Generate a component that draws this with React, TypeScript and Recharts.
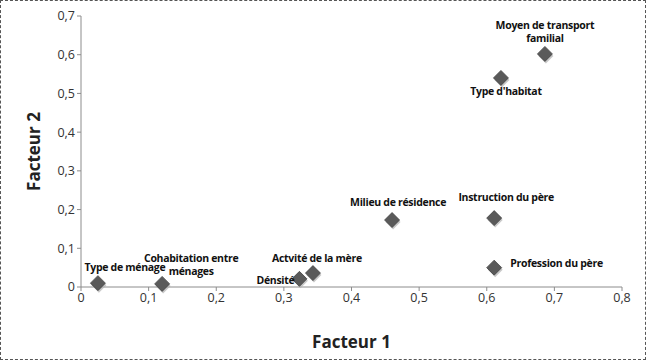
import { ScatterChart, Scatter, XAxis, YAxis } from 'recharts'

const names = [
  'Type de ménage',
  'Cohabitation entre ménages',
  'Dénsité',
  'Actvité de la mère',
  'Milieu de résidence',
  'Instruction du père',
  'Profession du père',
  "Type d'habitat",
  'Moyen de transport familial',
]
const factor1 = [0.025, 0.12, 0.323, 0.343, 0.46, 0.611, 0.611, 0.621, 0.686]
const factor2 = [0.01, 0.008, 0.021, 0.036, 0.173, 0.178, 0.05, 0.54, 0.602]
const xTicks = [0, 0.1, 0.2, 0.3, 0.4, 0.5, 0.6, 0.7, 0.8]
const yTicks = [0, 0.1, 0.2, 0.3, 0.4, 0.5, 0.6, 0.7]

const data = names.map((name, i) => ({ name, x: factor1[i], y: factor2[i] }))

// label placement per point: lines, offsets from the marker, anchor
const labelStyle: Record<string, { lines: string[]; dx: number; dy: number; anchor: 'start' | 'middle' | 'end' }> = {
  'Type de ménage': { lines: ['Type de ménage'], dx: 27, dy: -16, anchor: 'middle' },
  'Cohabitation entre ménages': { lines: ['Cohabitation entre', 'ménages'], dx: 29, dy: -26, anchor: 'middle' },
  'Dénsité': { lines: ['Dénsité'], dx: -5, dy: 1, anchor: 'end' },
  'Actvité de la mère': { lines: ['Actvité de la mère'], dx: 4, dy: -15, anchor: 'middle' },
  'Milieu de résidence': { lines: ['Milieu de résidence'], dx: 6, dy: -18, anchor: 'middle' },
  'Instruction du père': { lines: ['Instruction du père'], dx: 12, dy: -21, anchor: 'middle' },
  'Profession du père': { lines: ['Profession du père'], dx: 16, dy: -5, anchor: 'start' },
  "Type d'habitat": { lines: ["Type d'habitat"], dx: 5, dy: 13, anchor: 'middle' },
  'Moyen de transport familial': { lines: ['Moyen de transport', 'familial'], dx: 0, dy: -29, anchor: 'middle' },
}

const fmt = (v: number) => (v === 0 ? '0' : v.toFixed(1).replace('.', ','))

const Diamond = (props: any) => {
  const { cx, cy } = props
  const name = props.payload?.name ?? props.name
  const s = 7.5
  const pts = (ox: number, oy: number) =>
    `${cx + ox},${cy + oy - s} ${cx + ox + s},${cy + oy} ${cx + ox},${cy + oy + s} ${cx + ox - s},${cy + oy}`
  const lab = labelStyle[name]
  return (
    <g>
      <polygon points={pts(1, 2)} fill="#b0b0b0" opacity={0.7} />
      <polygon points={pts(0, 0)} fill="#5a5a5a" stroke="#444" strokeWidth={0.8} />
      {lab &&
        lab.lines.map((line, i) => (
          <text
            key={i}
            x={cx + lab.dx}
            y={cy + lab.dy + i * 13}
            textAnchor={lab.anchor}
            dominantBaseline="central"
            fontSize={10.5}
            fontWeight="bold"
            fill="#111"
            fontFamily="'Open Sans', sans-serif"
            letterSpacing={-0.3}
          >
            {line}
          </text>
        ))}
    </g>
  )
}

export default function App() {
  return (
    <div style={{ position: 'absolute', left: 0, top: 0, width: 646, height: 360, background: '#fff' }}>
      <ScatterChart
        width={646}
        height={360}
        margin={{ top: 16, right: 24, left: 0, bottom: 0 }}
        style={{ fontFamily: "'Open Sans', sans-serif" }}
      >
        <XAxis
          type="number"
          dataKey="x"
          domain={[0, 0.8]}
          ticks={xTicks}
          tickFormatter={fmt}
          stroke="#8c8c8c"
          tickSize={4}
          tick={{ fill: '#333', fontSize: 12.5 }}
          height={73}
          label={{
            value: 'Facteur 1',
            position: 'insideBottom',
            offset: 12,
            style: { fontSize: 17, fontWeight: 'bold', fill: '#222' },
          }}
        />
        <YAxis
          type="number"
          dataKey="y"
          domain={[0, 0.7]}
          ticks={yTicks}
          tickFormatter={fmt}
          stroke="#8c8c8c"
          tickSize={4}
          tick={{ fill: '#333', fontSize: 12.5 }}
          width={81}
          label={{
            value: 'Facteur 2',
            angle: -90,
            position: 'insideLeft',
            offset: 34,
            style: { fontSize: 17, fontWeight: 'bold', fill: '#222', textAnchor: 'middle' },
          }}
        />
        <Scatter data={data} shape={Diamond} isAnimationActive={false} />
      </ScatterChart>
      <div
        style={{
          position: 'absolute',
          inset: 0,
          border: '1px dashed #555',
          pointerEvents: 'none',
        }}
      />
    </div>
  )
}
